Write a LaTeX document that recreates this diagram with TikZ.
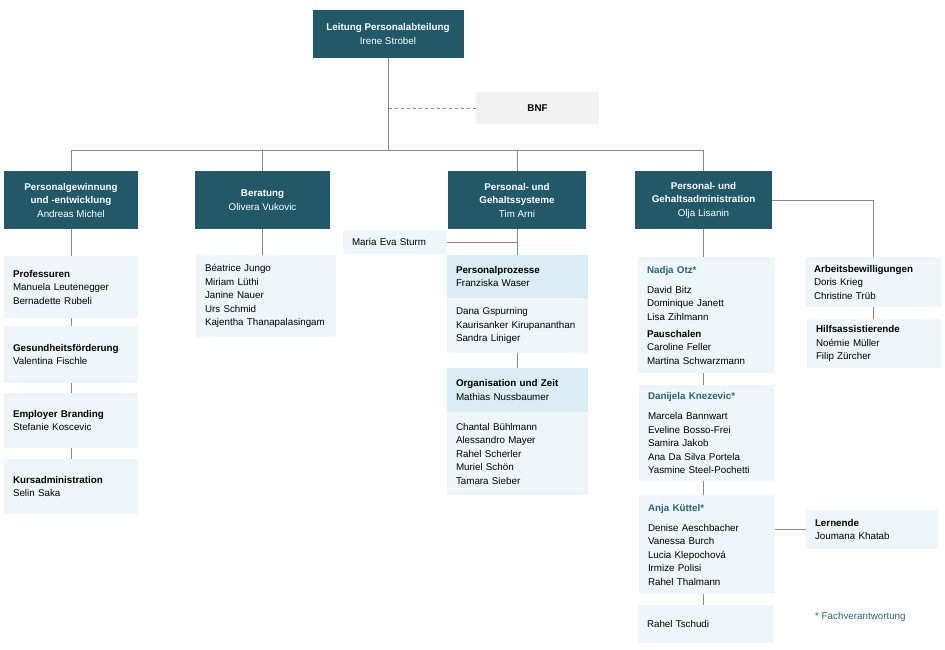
\documentclass[tikz,border=0pt]{standalone}
\usepackage{fontspec}
\setmainfont{Liberation Sans}
\usetikzlibrary{calc}
\definecolor{myteal}{HTML}{215968}
\definecolor{mytealtext}{HTML}{2A6478}
\definecolor{mylight}{HTML}{EEF6FA}
\definecolor{myhead}{HTML}{DAEDF4}
\definecolor{mygrey}{HTML}{8A8A8A}
\definecolor{mybnf}{HTML}{F2F2F2}

\begin{document}
\begin{tikzpicture}[x=1pt,y=-1pt,
                    every node/.style={font=\fontsize{9.8}{13.5}\selectfont},
                    boss/.style 2 args={rectangle, fill=myteal, text=white, align=center,
                        minimum width=#1, minimum height=#2, inner sep=2pt},
                    team/.style 2 args={rectangle, fill=mylight, align=left, inner xsep=9pt,
                        inner ysep=2pt, text width=#1, minimum height=#2},
                    head/.style 2 args={team={#1}{#2}, fill=myhead},
                    link/.style={draw=mygrey, line width=0.9pt}]
\useasboundingbox (0,0) rectangle (945,650);

% Leitung und Stab
\node[boss={151pt}{48pt}] (lead) at (388,34) {\textbf{Leitung Personalabteilung}\\Irene Strobel};
\node[rectangle, fill=mybnf, minimum width=123pt, minimum height=32pt] (bnf) at (537.5,108) {\textbf{BNF}};
\coordinate (bus) at (388,150);

% Abteilungen
\node[boss={134pt}{58pt}] (pgw) at (71,200) {\textbf{Personalgewinnung}\\\textbf{und -entwicklung}\\Andreas Michel};
\node[boss={135pt}{58pt}] (ber) at (262.5,200) {\textbf{Beratung}\\Olivera Vukovic};
\node[boss={138pt}{58pt}] (sys) at (517,200) {\textbf{Personal- und}\\\textbf{Gehaltssysteme}\\Tim Arni};
\node[boss={137pt}{58pt}] (adm) at (703.5,200) {\textbf{Personal- und}\\\textbf{Gehaltsadministration}\\Olja Lisanin};

% Personalgewinnung
\node[team={116pt}{62pt}] (prof) at (71,287) {\textbf{Professuren}\\Manuela Leutenegger\\Bernadette Rubeli};
\node[team={116pt}{57pt}] (ges) at (71,354.5) {\textbf{Gesundheitsförderung}\\Valentina Fischle};
\node[team={116pt}{55pt}] (emp) at (71,420.5) {\textbf{Employer Branding}\\Stefanie Koscevic};
\node[team={116pt}{55pt}] (kurs) at (71,486.5) {\textbf{Kursadministration}\\Selin Saka};

% Beratung
\node[team={122pt}{82pt}] (berl) at (266,296) {Béatrice Jungo\\Miriam Lüthi\\Janine Nauer\\Urs Schmid\\Kajentha Thanapalasingam};

% Systeme
\node[team={86pt}{24pt}] (maria) at (395,242) {Maria Eva Sturm};
\node[head={123pt}{43pt}] (pp) at (517.5,276.5) {\textbf{Personalprozesse}\\Franziska Waser};
\node[team={123pt}{55pt}] (ppl) at (517.5,325.5) {Dana Gspurning\\Kaurisanker Kirupananthan\\Sandra Liniger};
\node[head={123pt}{44pt}] (oz) at (517.5,390) {\textbf{Organisation und Zeit}\\Mathias Nussbaumer};
\node[team={123pt}{83pt}] (ozl) at (517.5,453.5) {Chantal Bühlmann\\Alessandro Mayer\\Rahel Scherler\\Muriel Schön\\Tamara Sieber};

% Administration
\node[team={118pt}{116pt}] (otz) at (706,315) {\textcolor{mytealtext}{\textbf{Nadja Otz*}}\\[6.5pt]David Bitz\\Dominique Janett\\Lisa Zihlmann\\[3.5pt]\textbf{Pauschalen}\\Caroline Feller\\Martina Schwarzmann};
\node[team={118pt}{96pt}] (kne) at (707,433) {\textcolor{mytealtext}{\textbf{Danijela Knezevic*}}\\[6.5pt]Marcela Bannwart\\Eveline Bosso-Frei\\Samira Jakob\\Ana Da Silva Portela\\Yasmine Steel-Pochetti};
\node[team={118pt}{99pt}] (kue) at (707,544.5) {\textcolor{mytealtext}{\textbf{Anja Küttel*}}\\[6.5pt]Denise Aeschbacher\\Vanessa Burch\\Lucia Klepochová\\Irmize Polisi\\Rahel Thalmann};
\node[team={117pt}{38pt}] (tsc) at (705.5,624) {Rahel Tschudi};
\node[team={114pt}{39pt}] (lern) at (872,529.5) {\textbf{Lernende}\\Joumana Khatab};
\node[team={118pt}{50pt}] (arb) at (873,282) {\textbf{Arbeitsbewilligungen}\\Doris Krieg\\Christine Trüb};
\node[team={116pt}{49pt}] (hilf) at (874,343.5) {\textbf{Hilfsassistierende}\\Noémie Müller\\Filip Zürcher};
\node[anchor=west, inner sep=0pt, text=mytealtext] (note) at (815,617) {* Fachverantwortung};

% Verbindungen
\draw[link] (lead) -- (bus);
\draw[link, dashed] (bnf.west) -- (bnf.west -| bus);
\draw[link] (pgw.north |- bus) -- (adm.north |- bus);
\foreach \n in {pgw,ber,sys,adm}
  \draw[link] (\n.north) -- (\n.north |- bus);
\draw[link] (pgw) -- (prof);
\draw[link] (prof) -- (ges);
\draw[link] (ges) -- (emp);
\draw[link] (emp) -- (kurs);
\draw[link] (ber.south) -- (ber.south |- berl.north);
\draw[link] (sys.south) -- (sys.south |- pp.north);
\draw[link] (maria.east) -- (maria.east -| sys.south);
\draw[link] (ppl.south) -- (oz.north);
\draw[link] (adm.south) -- (adm.south |- otz.north);
\draw[link] (otz.south -| adm.south) -- (adm.south |- kne.north);
\draw[link] (kne.south -| adm.south) -- (adm.south |- kue.north);
\draw[link] (kue.south -| adm.south) -- (adm.south |- tsc.north);
\draw[link] (lern.west -| kue.east) -- (lern.west);
\draw[link] (adm.east) -| (arb.north);
\draw[link] (arb.south) -- (arb.south |- hilf.north);
\end{tikzpicture}
\end{document}
